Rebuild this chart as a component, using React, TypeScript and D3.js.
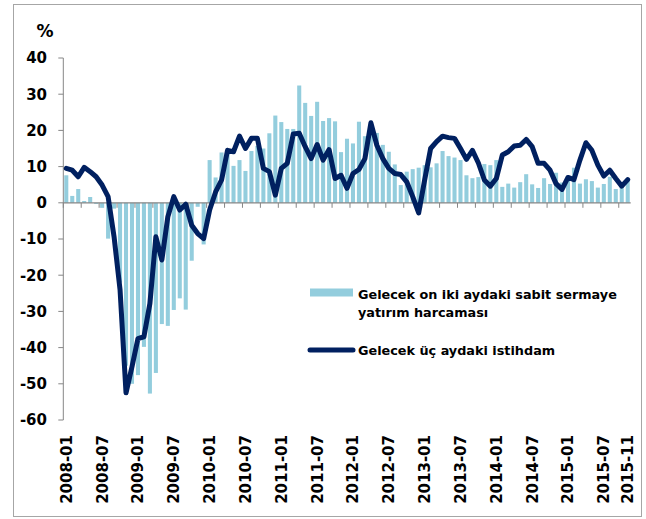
import React from "react";
import * as d3 from "d3";

const categories: string[] = [];
for (let y = 2008; y <= 2015; y++) {
  for (let m = 1; m <= 12; m++) {
    if (y === 2015 && m > 11) break;
    categories.push(`${y}-${String(m).padStart(2, "0")}`);
  }
}

const tickLabels = [
  "2008-01", "2008-07", "2009-01", "2009-07", "2010-01", "2010-07",
  "2011-01", "2011-07", "2012-01", "2012-07", "2013-01", "2013-07",
  "2014-01", "2014-07", "2015-01", "2015-07", "2015-11",
];

const yTicks = [40, 30, 20, 10, 0, -10, -20, -30, -40, -50, -60];

const investment = [
  7.6, 1.9, 3.8, 0.5, 1.6, -0.3, -1.4, -9.9, -1.6, -22, -45, -50,
  -47.6, -39.8, -52.7, -47, -33.5, -34, -29.6, -26.4, -29.5, -16, -1.1, -11.5,
  11.8, 7, 13.9, 14, 10.2, 11.8, 8.8, 14.3, 15.7, 15, 19.2, 24.1,
  22.3, 20.4, 20.4, 32.4, 27.6, 24, 27.9, 22.6, 23.4, 22.5, 14, 17.7,
  16.4, 22.4, 18.4, 19.6, 19.3, 16, 14.1, 10.6, 4.9, 8.6, 9.3, 9.7,
  10.4, 9.8, 10.9, 14.3, 12.9, 12.5, 11.8, 7.6, 6.8, 7.1, 10.7, 10.4,
  11.8, 4.4, 5.3, 4.2, 5.7, 7.9, 5.1, 4.1, 6.8, 5.2, 8.3, 5.6,
  6.1, 9.7, 5.3, 6.5, 6.0, 4.2, 5.2, 7.2, 3.8, 5.0, 6.4,
];

const employment = [
  9.5, 9.0, 7.2, 9.8, 8.6, 7.2, 4.9, 1.7, -9.4, -24, -52.5, -45.3,
  -37.5, -37, -27.8, -9.4, -15.8, -3.9, 1.7, -2, -0.4, -6.2, -8.5, -9.9,
  -2, 3.0, 6.3, 14.5, 14.1, 18.4, 15.0, 17.8, 17.8, 9.5, 8.6, 2.1,
  9.5, 10.9, 19.0, 19.2, 15.5, 12.2, 16.1, 11.8, 14.7, 6.7, 7.6, 4.0,
  8.1, 9.2, 12.2, 22.1, 15.9, 12.2, 9.5, 8.1, 7.8, 5.8, 1.7, -2.8,
  6.3, 15.0, 16.9, 18.4, 18.0, 17.8, 15.0, 12.0, 14.5, 11.0, 6.3, 4.6,
  6.7, 13.2, 14.1, 15.7, 15.9, 17.5, 15.5, 10.9, 10.9, 9.0, 5.3, 3.7,
  7.0, 6.4, 11.8, 16.6, 14.5, 10.4, 7.4, 9.0, 6.7, 4.6, 6.4,
];

const legendBar = ["Gelecek on iki aydaki sabit sermaye", "yatırım harcaması"];
const legendLine = "Gelecek üç aydaki istihdam";

const W = 646;
const H = 519;
const FONT = "'DejaVu Sans', Verdana, sans-serif";
const AXIS = "#868686";
const BAR = "#93CDDD";
const LINE = "#002060";

export default function App() {
  const x = d3.scaleBand<string>().domain(categories).range([63.3, 630.7]).paddingInner(0.32).paddingOuter(0.16);
  const step = x.step();
  const y = d3.scaleLinear().domain([-60, 40]).range([420, 58]);
  const x0 = 63.3;
  const center = (c: string) => (x(c) as number) + x.bandwidth() / 2;

  const line = d3
    .line<number>()
    .x((_, i) => center(categories[i]))
    .y((d) => y(d))
    .curve(d3.curveLinear);

  const tickIdx = d3.range(0, categories.length, 3);

  return (
    <svg width={W} height={H} style={{ position: "absolute", left: 0, top: 0 }} fontFamily={FONT}>
      <rect x={0} y={0} width={W} height={H} fill="#fff" />
      <rect x={13.5} y={4.5} width={628} height={512} fill="none" stroke="#a6a6a6" strokeWidth={1} />

      {/* bars */}
      {investment.map((v, i) => (
        <rect
          key={i}
          x={x(categories[i])}
          y={Math.min(y(v), y(0))}
          width={x.bandwidth()}
          height={Math.abs(y(v) - y(0))}
          fill={BAR}
        />
      ))}

      {/* y axis */}
      <line x1={x0} x2={x0} y1={y(40)} y2={y(-60)} stroke={AXIS} strokeWidth={1} />
      {yTicks.map((t) => (
        <g key={t}>
          <line x1={x0 - 5} x2={x0} y1={y(t)} y2={y(t)} stroke={AXIS} />
          <text x={47} y={y(t)} dy="0.36em" textAnchor="end" fontSize={15} fontWeight="bold" fill="#000">
            {t}
          </text>
        </g>
      ))}
      <text x={45} y={37} textAnchor="middle" fontSize={17} fontWeight="bold">%</text>

      {/* x axis */}
      <line x1={x0} x2={630.7} y1={y(0)} y2={y(0)} stroke={AXIS} strokeWidth={1.2} />
      {tickIdx.map((i) => (
        <line key={i} x1={x0 + i * step} x2={x0 + i * step} y1={y(0)} y2={y(0) + 5} stroke={AXIS} />
      ))}

      {/* line */}
      <path d={line(employment) || ""} fill="none" stroke={LINE} strokeWidth={5} strokeLinejoin="round" strokeLinecap="round" />

      {/* x labels */}
      {tickLabels.map((lab) => {
        const cx = center(lab) + 5.5;
        return (
          <text key={lab} transform={`translate(${cx},435) rotate(-90)`} textAnchor="end" fontSize={15} fontWeight="bold">
            {lab}
          </text>
        );
      })}

      {/* legend */}
      <rect x={310} y={288.5} width={43} height={8} fill={BAR} />
      <text x={358} y={299} fontSize={12.8} fontWeight="bold">{legendBar[0]}</text>
      <text x={358} y={316.5} fontSize={12.8} fontWeight="bold">{legendBar[1]}</text>
      <line x1={310} x2={353} y1={350} y2={350} stroke={LINE} strokeWidth={5} strokeLinecap="round" />
      <text x={358} y={355} fontSize={12.8} fontWeight="bold">{legendLine}</text>
    </svg>
  );
}
